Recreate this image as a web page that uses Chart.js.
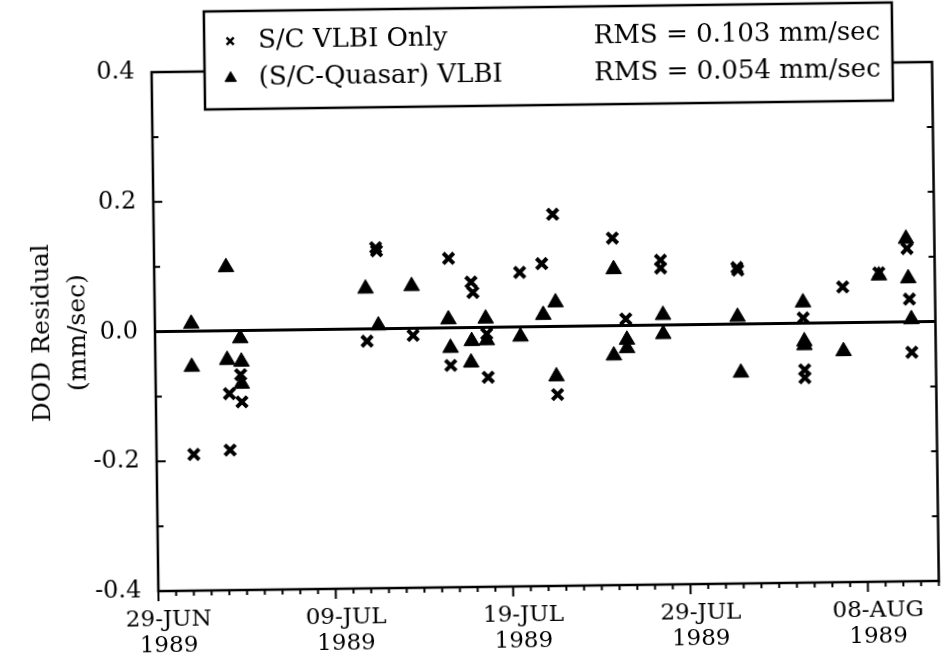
<!DOCTYPE html>
<html>
<head>
<meta charset="utf-8">
<script src="https://cdn.jsdelivr.net/npm/chart.js@4/dist/chart.umd.min.js"></script>
<style>
  html, body { margin: 0; padding: 0; background: #fff; overflow: hidden; }
  #wrap { width: 947px; height: 662px; transform: rotate(-0.75deg); transform-origin: 50% 50%; }
</style>
</head>
<body>
<div id="wrap"><canvas id="c" width="947" height="662"></canvas></div>
<script>
// days after 29-JUN-1989, DOD residual in mm/sec
const scOnlyDays = [2.1, 4.15, 4.15, 4.8, 4.85, 11.95, 12.5, 12.55, 14.55, 16.6, 16.65, 17.85, 17.95, 18.7, 18.75, 20.6, 21.85, 22.5, 22.65, 25.85, 26.55, 28.55, 28.55, 32.85, 32.9, 36.55, 36.6, 36.6, 38.8, 40.85, 42.45, 42.55, 42.65];
const scOnlyResid = [-0.19, -0.184, -0.097, -0.068, -0.11, -0.019, 0.125, 0.12, -0.011, 0.107, -0.058, 0.07, 0.054, -0.01, -0.077, 0.084, 0.097, 0.173, -0.105, 0.135, 0.010, 0.100, 0.088, 0.087, 0.083, 0.008, -0.072, -0.084, 0.055, 0.076, 0.113, 0.035, -0.047];

const quasarDays = [2.05, 2.05, 4.05, 4.05, 4.8, 4.85, 4.85, 11.9, 12.6, 14.5, 16.55, 16.65, 17.85, 17.8, 18.65, 18.7, 20.6, 21.9, 22.6, 22.6, 25.9, 25.85, 26.6, 26.6, 28.65, 28.65, 32.85, 33.0, 36.55, 36.6, 36.6, 38.8, 40.85, 42.4, 42.5, 42.65];
const quasarResid = [0.0115, -0.055, 0.098, -0.045, -0.012, -0.048, -0.082, 0.062, 0.005, 0.065, 0.013, -0.031, -0.021, -0.054, 0.0135, -0.02, -0.015, 0.018, 0.037, -0.077, 0.087, -0.046, -0.022, -0.035, 0.0155, -0.014, 0.011, -0.075, 0.032, -0.028, -0.034, -0.044, 0.072, 0.128, 0.067, 0.004];

const seriesNames = ['S/C VLBI Only', '(S/C-Quasar) VLBI'];
const rmsTexts = ['RMS = 0.103 mm/sec', 'RMS = 0.054 mm/sec'];
const xTickLabels = ['29-JUN', '09-JUL', '19-JUL', '29-JUL', '08-AUG'];
const xTickYear = '1989';
const zeroLine = [0, 44];

Chart.defaults.font.family = "'DejaVu Serif', serif";
Chart.defaults.color = '#000';

const toPoints = (xs, ys) => xs.map((x, i) => ({ x: x, y: ys[i] }));

// frame and tick marks (ticks inside on y, outside on x)
const frameTicks = {
    id: 'frameTicks',
    afterDatasetsDraw(chart) {
        const ctx = chart.ctx;
        const a = chart.chartArea;
        const xs = chart.scales.x, ys = chart.scales.y;
        ctx.save();
        ctx.strokeStyle = '#000';
        ctx.lineWidth = 2.5;
        ctx.strokeRect(a.left, a.top, a.right - a.left, a.bottom - a.top);
        ctx.lineWidth = 2;
        ctx.beginPath();
        for (let d = 0; d <= xs.max; d++) {
            const px = xs.getPixelForValue(d);
            ctx.moveTo(px, a.bottom);
            ctx.lineTo(px, a.bottom + (d % 10 === 0 ? 10 : 5));
        }
        for (let k = -4; k <= 4; k++) {
            const py = ys.getPixelForValue(k / 10);
            ctx.moveTo(a.left, py);
            ctx.lineTo(a.left + (k % 2 === 0 ? 9 : 6), py);
            ctx.moveTo(a.right, py);
            ctx.lineTo(a.right - 6, py);
        }
        ctx.stroke();
        ctx.restore();
    }
};

const legendBox = {
    id: 'legendBox',
    afterDraw(chart) {
        const ctx = chart.ctx;
        ctx.save();
        ctx.fillStyle = '#fff';
        ctx.strokeStyle = '#000';
        ctx.lineWidth = 2.5;
        ctx.fillRect(208, 8, 688, 98);
        ctx.strokeRect(208, 8, 688, 98);
        ctx.font = "26px 'DejaVu Serif', serif";
        ctx.textBaseline = 'middle';
        const rows = [38, 75];
        [0, 1].forEach(i => {
            const ds = chart.data.datasets[i];
            ctx.fillStyle = '#000';
            ctx.strokeStyle = '#000';
            ctx.lineWidth = i === 0 ? 2.5 : 1;
            Chart.helpers.drawPoint(ctx, { pointStyle: ds.pointStyle, radius: i === 0 ? 5 : 6.5, borderWidth: ctx.lineWidth, rotation: 0 }, 234, rows[i]);
            ctx.textAlign = 'left';
            ctx.fillText(ds.label, 262, rows[i]);
            ctx.textAlign = 'right';
            ctx.fillText(rmsTexts[i], 884, rows[i]);
        });
        ctx.restore();
    }
};

new Chart(document.getElementById('c'), {
    type: 'scatter',
    data: {
        datasets: [
            {
                label: seriesNames[0],
                data: toPoints(scOnlyDays, scOnlyResid),
                pointStyle: 'crossRot',
                pointRadius: 7.5,
                borderWidth: 4,
                borderColor: '#000',
                backgroundColor: '#000'
            },
            {
                label: seriesNames[1],
                data: toPoints(quasarDays, quasarResid),
                pointStyle: 'triangle',
                pointRadius: 9,
                borderWidth: 1,
                borderColor: '#000',
                backgroundColor: '#000'
            },
            {
                type: 'line',
                label: 'zero',
                data: zeroLine.map(d => ({ x: d, y: 0 })),
                borderColor: '#000',
                borderWidth: 3,
                pointRadius: 0
            }
        ]
    },
    options: {
        responsive: false,
        animation: false,
        layout: { padding: { top: 68, right: 0, left: 0, bottom: 0 } },
        plugins: { legend: { display: false }, tooltip: { enabled: false } },
        scales: {
            x: {
                type: 'linear',
                min: 0,
                max: 44,
                grid: { display: false },
                border: { display: false },
                afterFit: s => { s.height = 75; },
                ticks: {
                    stepSize: 10,
                    includeBounds: false,
                    padding: 8,
                    labelOffset: 10,
                    maxRotation: 0,
                    font: { size: 23, lineHeight: 1.12 },
                    callback: v => (v % 10 === 0 ? [xTickLabels[v / 10], xTickYear] : null)
                }
            },
            y: {
                min: -0.4,
                max: 0.4,
                grid: { display: false },
                border: { display: false },
                afterFit: s => { s.width = 155; },
                title: {
                    display: true,
                    text: ['DOD Residual', '(mm/sec)'],
                    font: { size: 25, lineHeight: 1.45 },
                    padding: { top: 24, bottom: 0 }
                },
                ticks: {
                    stepSize: 0.2,
                    padding: 9,
                    font: { size: 24 },
                    callback: v => (Math.abs(v) < 1e-9 ? '0.0' : v.toFixed(1))
                }
            }
        }
    },
    plugins: [frameTicks, legendBox]
});
</script>
</body>
</html>
